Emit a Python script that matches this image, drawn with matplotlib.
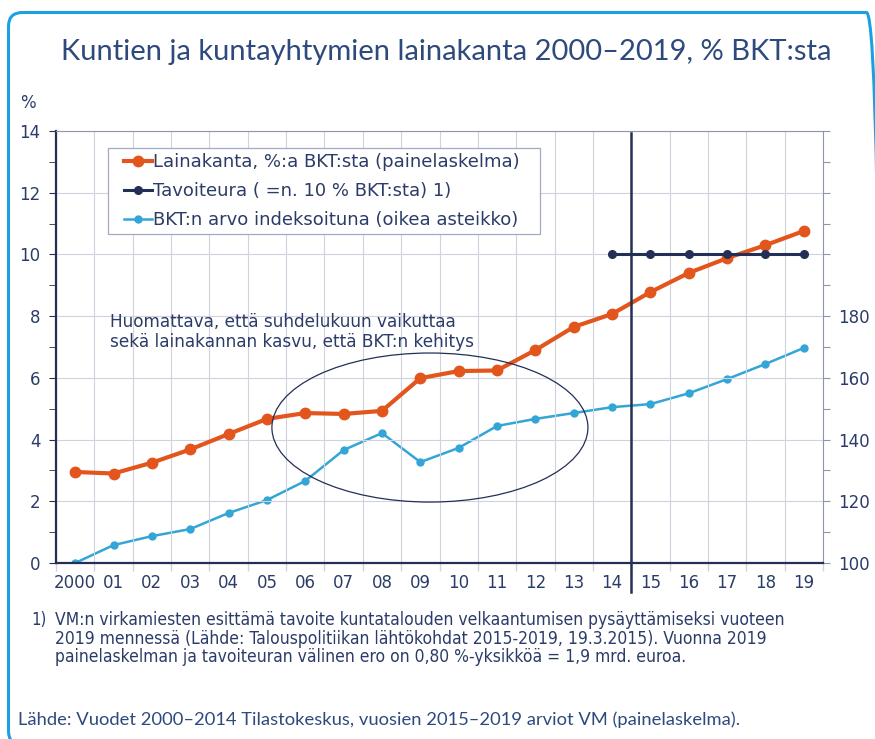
import numpy as np
import matplotlib
matplotlib.use("Agg")
import matplotlib.pyplot as plt
from matplotlib.patches import Ellipse, FancyBboxPatch, Rectangle
from matplotlib.transforms import IdentityTransform

# data
years = np.arange(20)
year_labels = ["2000", "01", "02", "03", "04", "05", "06", "07", "08", "09",
               "10", "11", "12", "13", "14", "15", "16", "17", "18", "19"]
lainakanta = [2.95, 2.90, 3.25, 3.68, 4.18, 4.67, 4.86, 4.83, 4.93, 5.99,
              6.22, 6.24, 6.90, 7.65, 8.07, 8.78, 9.40, 9.88, 10.30, 10.76]
target_years = [14, 15, 16, 17, 18, 19]
tavoiteura = [10, 10, 10, 10, 10, 10]
bkt_index = [100.0, 105.8, 108.7, 111.0, 116.2, 120.4, 126.6, 136.6, 142.1, 132.7,
             137.3, 144.4, 146.7, 148.6, 150.5, 151.5, 155.0, 159.6, 164.5, 169.7]

NAVY = "#232f57"
ORANGE = "#e2561d"
LBLUE = "#33a5d6"
TEXT = "#2c3c68"
TITLE = "#2e4a7d"
GRID = "#d0d2df"
BORDER = "#1ba1e2"

W, H = 875, 739
fig = plt.figure(figsize=(W / 100, H / 100), dpi=100)
x0, x1, ytop, ybot = 56, 823, 131, 563
ax = fig.add_axes([x0 / W, 1 - ybot / H, (x1 - x0) / W, (ybot - ytop) / H])

# rounded frame around the whole panel, drawn in pixels (right/bottom edges run off the canvas)
frame = FancyBboxPatch((8.5, -6), 872, 732.5, boxstyle="round,pad=0,rounding_size=14",
                       transform=IdentityTransform(), fill=False, edgecolor=BORDER,
                       linewidth=2.2, clip_on=False)
fig.patches.append(frame)

fig.text(446 / W, 1 - 52 / H, "Kuntien ja kuntayhtymien lainakanta 2000–2019, % BKT:sta",
         ha="center", va="center", fontsize=21, color=TITLE, family="Lato")
fig.text(20 / W, 1 - 103 / H, "%", ha="left", va="center", fontsize=12, color=TEXT)

# left axis
ax.set_xlim(-0.5, 19.5)
ax.set_ylim(0, 14)
ax.set_yticks(np.arange(0, 15, 2))
ax.set_yticks(np.arange(1, 14, 2), minor=True)
ax.set_xticks(years)
ax.set_xticklabels(year_labels)
ax.set_xticks(np.arange(-0.5, 20, 1), minor=True)
ax.tick_params(axis="x", which="major", length=0, labelsize=12, labelcolor=TEXT, pad=8)
ax.tick_params(axis="x", which="minor", length=6, color=GRID, width=1)
ax.tick_params(axis="y", which="both", length=5, color=NAVY, labelsize=12,
               labelcolor=TEXT, pad=6)
ax.grid(True, axis="x", which="minor", color=GRID, linewidth=0.8)
ax.grid(True, axis="y", which="major", color=GRID, linewidth=0.8)
ax.set_axisbelow(True)
for side in ["left", "bottom"]:
    ax.spines[side].set_color(NAVY)
    ax.spines[side].set_linewidth(1.6)
ax.spines["top"].set_color("#8f95ad")
ax.spines["right"].set_color("#8f95ad")

# right axis
ax2 = ax.twinx()
ax2.set_ylim(100, 240)
ax2.set_yticks(np.arange(100, 241, 10))
ax2.set_yticklabels([str(v) if (v <= 180 and v % 20 == 0) else "" for v in range(100, 241, 10)])
ax2.tick_params(axis="y", length=5, color="#8f95ad", labelsize=12, labelcolor=TEXT, pad=6)
for s in ax2.spines.values():
    s.set_visible(False)

# series
l3, = ax2.plot(years, bkt_index, color=LBLUE, linewidth=1.8, marker="o", markersize=5,
               label="BKT:n arvo indeksoituna (oikea asteikko)", zorder=3)
l1, = ax.plot(years, lainakanta, color=ORANGE, linewidth=3, marker="o", markersize=7.5,
              label="Lainakanta, %:a BKT:sta (painelaskelma)", zorder=4)
l2, = ax.plot(target_years, tavoiteura, color=NAVY, linewidth=2.2, marker="o", markersize=5.5,
              label="Tavoiteura ( =n. 10 % BKT:sta) 1)", zorder=5)
ax.set_zorder(ax2.get_zorder() + 1)
ax.patch.set_visible(False)

# divider between history and forecast
ax.plot([14.5, 14.5], [-0.95, 13.95], color=NAVY, linewidth=1.8, clip_on=False, zorder=6)

# ellipse and its comment
ax.add_patch(Ellipse((9.25, 4.39), 8.24, 4.83, fill=False, edgecolor=NAVY, linewidth=0.9,
                     zorder=6))
ax.text(0.9, 7.48, "Huomattava, että suhdelukuun vaikuttaa\nsekä lainakannan kasvu, että BKT:n kehitys",
        ha="left", va="center", fontsize=12.2, color=TEXT, linespacing=1.15)

# legend: square box drawn separately so the entries can sit further in
def ax_frac(px, py):
    return (px - x0) / (x1 - x0), (ybot - py) / (ybot - ytop)

bx, by = ax_frac(108, 234)
bx2, by2 = ax_frac(540, 148)
ax.add_patch(Rectangle((bx, by), bx2 - bx, by2 - by, transform=ax.transAxes,
                       facecolor="white", edgecolor="#a3a9c2", linewidth=0.9, zorder=7))
leg = ax.legend(handles=[l1, l2, l3], loc="upper left", bbox_to_anchor=ax_frac(124, 153),
                fontsize=13, handlelength=1.55, handletextpad=0.05, borderpad=0,
                labelspacing=0.62, frameon=False, borderaxespad=0)
leg.set_zorder(8)
for t in leg.get_texts():
    t.set_color(TEXT)

# footnote and source
foot = ["VM:n virkamiesten esittämä tavoite kuntatalouden velkaantumisen pysäyttämiseksi vuoteen",
        "2019 mennessä (Lähde: Talouspolitiikan lähtökohdat 2015-2019, 19.3.2015). Vuonna 2019",
        "painelaskelman ja tavoiteuran välinen ero on 0,80 %-yksikköä = 1,9 mrd. euroa."]
fig.text(31 / W, 1 - 620 / H, "1)", ha="left", va="center", fontsize=12, color=TEXT,
         family="DejaVu Sans", fontstretch="condensed")
for i, line in enumerate(foot):
    fig.text(55 / W, 1 - (620 + 18.5 * i) / H, line, ha="left", va="center", fontsize=12.5,
             color=TEXT, family="DejaVu Sans", fontstretch="condensed")
fig.text(18 / W, 1 - 720 / H,
         "Lähde: Vuodet 2000–2014 Tilastokeskus, vuosien 2015–2019 arviot VM (painelaskelma).",
         ha="left", va="center", fontsize=13.2, color=TITLE, family="Lato")

fig.savefig("out.png", dpi=100)
